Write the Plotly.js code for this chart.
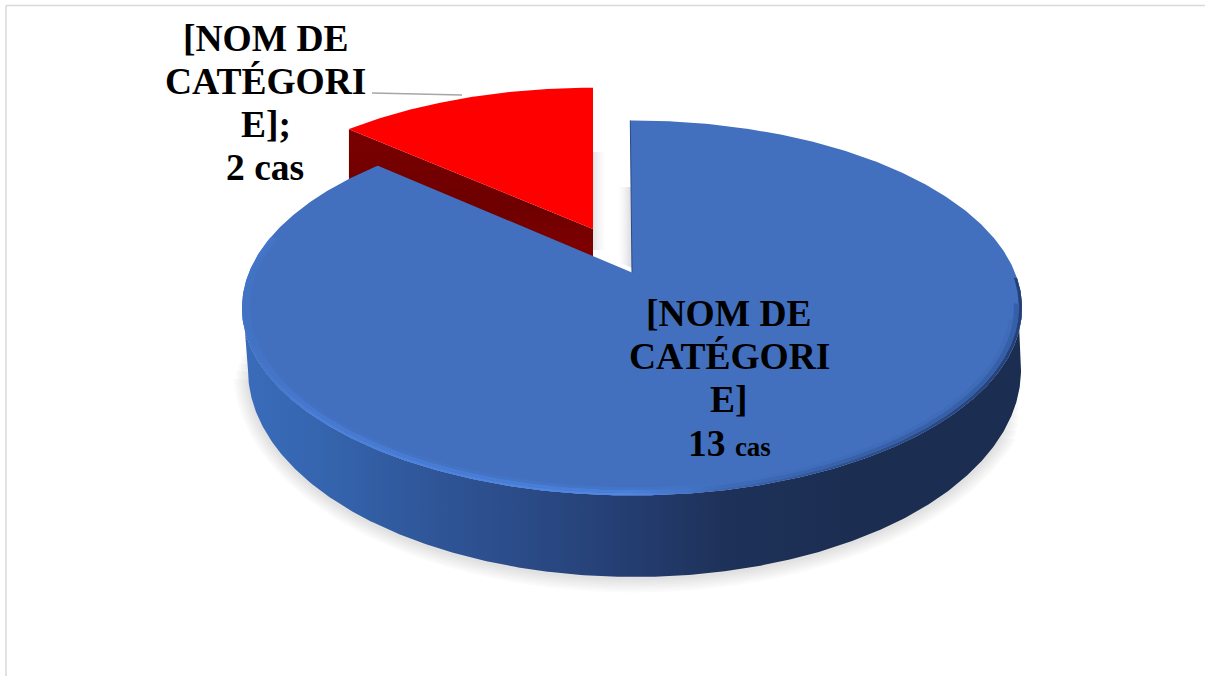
<!DOCTYPE html>
<html><head><meta charset="utf-8">
<script src="https://cdn.plot.ly/plotly-3.0.1.min.js"></script>
<style>html,body{margin:0;padding:0;background:#fff}#c{width:1205px;height:676px}</style>
</head><body><div id="c"></div>
<script>
const categories = ['[NOM DE CATÉGORIE] A', '[NOM DE CATÉGORIE] B'];
const values = [13, 2];
const unitLabel = 'cas';
const sliceColors = ['#4270BF', '#FF0000'];
const labelLinesBlue = ['[NOM DE', 'CATÉGORI', 'E]'];
const labelLinesRed = ['[NOM DE', 'CATÉGORI', 'E];'];

const total = values.reduce((a, b) => a + b, 0);
const splitDeg = 360 * values[0] / total;

// Perspective projection of a disc onto the page (page-pixel data units)
const K = 0.189;
const blueDisc = {ax: 632, ay: 272.5, R: 383, H: 180.8, rot: -0.3};
const redDisc = {ax: 593, ay: 229, R: 370, H: 168, rot: 0};
const baseEllipse = {cx: 634.5, cy: 370, a: 386.5, b: 207};
const DEG = Math.PI / 180;
function proj(d, deg, s = 1) {
  const u = Math.sin((deg + d.rot) * DEG) * s, v = Math.cos((deg + d.rot) * DEG) * s;
  const w = 1 + K * v;
  return [d.ax + d.R * u / w, d.ay - d.H * v / w];
}
function arc(d, a0, a1, s = 1) {
  const pts = [], n = Math.max(2, Math.round(Math.abs(a1 - a0) * 2));
  for (let i = 0; i <= n; i++) pts.push(proj(d, a0 + (a1 - a0) * i / n, s));
  return pts;
}
function baseArc(a0, a1, grow = 0, dy = 0) {
  const pts = [], n = Math.round(Math.abs(a1 - a0) * 2);
  for (let i = 0; i <= n; i++) {
    const a = (a0 + (a1 - a0) * i / n) * DEG;
    pts.push([baseEllipse.cx + (baseEllipse.a + grow) * Math.cos(a),
              baseEllipse.cy + dy + (baseEllipse.b + grow) * Math.sin(a)]);
  }
  return pts;
}
function poly(pts, style) {
  return Object.assign({
    type: 'scatter', mode: 'lines', x: pts.map(p => p[0]), y: pts.map(p => p[1]),
    fill: 'toself', line: {width: 0}, hoverinfo: 'skip', showlegend: false
  }, style);
}
const traces = [];

// soft shadow under the disc (lower part only)
for (let i = 6; i >= 1; i--) {
  traces.push(poly(baseArc(6 + i * 2, 190 - i * 2, i * 2.4, 1), {fillcolor: 'rgba(110,110,110,0.035)'}));
}

// faint shading inside the gap between the slices
traces.push(poly([[593, 152], [606, 152], [606, 250], [593, 250]], {
  fillgradient: {type: 'horizontal', colorscale: [[0, 'rgba(215,215,220,0.7)'], [1, 'rgba(235,235,240,0)']]}
}));
traces.push(poly([[618, 187], [631, 187], [632, 268], [618, 262]], {
  fillgradient: {type: 'horizontal', colorscale: [[0, 'rgba(235,235,240,0)'], [1, 'rgba(205,205,212,0.8)']]}
}));

// red slice: cut face then top face
const RED_DEPTH = 55;
const redApex = proj(redDisc, 0, 0);
const redTip = proj(redDisc, splitDeg);
traces.push(poly([redTip, redApex, [redApex[0], redApex[1] + RED_DEPTH], [redTip[0], redTip[1] + RED_DEPTH], redTip], {
  fillgradient: {type: 'vertical', colorscale: [[0, '#8A0000'], [0.5, '#6E0000'], [1, '#7A0000']]}
}));
traces.push(poly([redApex, ...arc(redDisc, splitDeg, 360), redApex], {fillcolor: sliceColors[1], name: categories[1]}));

// blue wall
const wallTop = arc(blueDisc, 92, 262);
traces.push(poly([...wallTop, ...baseArc(180, 0), wallTop[0]], {
  fillgradient: {type: 'horizontal', colorscale: [
    [0, '#3A6CBA'], [0.1, '#3565AF'], [0.25, '#2F5597'], [0.37, '#2A4A86'],
    [0.5, '#243D70'], [0.62, '#1E3159'], [0.8, '#1B2D50'], [1, '#1B2D50']
  ]}
}));

// blue top face
const blueApex = proj(blueDisc, 0, 0);
traces.push(poly([blueApex, ...arc(blueDisc, 0, splitDeg), blueApex], {fillcolor: sliceColors[0], name: categories[0]}));

// rim bevel on the blue face
function band(a0, s0, s1, scale) {
  const a = arc(blueDisc, a0, 282, s0), b = arc(blueDisc, 282, a0, s1);
  traces.push(poly([...a, ...b, a[0]], {fillgradient: {type: 'horizontal', colorscale: scale}}));
}
band(92, 1, 0.992, [[0, '#4272C4'], [0.1, '#4A80DC'], [0.5, '#4F88E6'], [0.62, '#3A66B2'], [0.8, '#2D4F8E'], [1, '#24407A']]);
band(100, 0.992, 0.98, [[0, '#4272C2'], [0.1, '#4779D0'], [0.5, '#4A7FDA'], [0.62, '#3E6BB8'], [0.8, '#3860A8'], [1, '#3560A8']]);
band(105, 0.98, 0.97, [[0, '#4270BF'], [0.5, '#4475C8'], [0.62, '#4270BF'], [0.8, '#3F6BB8'], [1, '#3F6BB8']]);

// thin dark edge on the blue cut
const cutTop = proj(blueDisc, 0);
traces.push({type: 'scatter', mode: 'lines', x: [cutTop[0], blueApex[0]], y: [cutTop[1], blueApex[1]],
  line: {color: '#2A4A80', width: 1}, hoverinfo: 'skip', showlegend: false});

// labels
const FS = 37.5;
function txt(x, y, text) {
  return {x, y, text, xref: 'x', yref: 'y', showarrow: false, xanchor: 'center', yanchor: 'middle',
    font: {family: '"Liberation Serif", serif', size: FS, color: '#000'}};
}
const annotations = [];
const redYs = [38, 81, 124, 167], blueYs = [313, 356, 399, 443];
labelLinesRed.forEach((t, i) => annotations.push(txt(265.5, redYs[i], '<b>' + t + '</b>')));
annotations.push(txt(265, redYs[3], `<b>${values[1]} ${unitLabel}</b>`));
labelLinesBlue.forEach((t, i) => annotations.push(txt(729, blueYs[i], '<b>' + t + '</b>')));
annotations.push(txt(729, blueYs[3], `<b>${values[0]} <span style="font-size:27px">${unitLabel}</span></b>`));

const layout = {
  width: 1205, height: 676, margin: {l: 0, r: 0, t: 0, b: 0},
  paper_bgcolor: '#fff', plot_bgcolor: '#fff', showlegend: false, hovermode: false,
  xaxis: {range: [0, 1205], visible: false, fixedrange: true},
  yaxis: {range: [676, 0], visible: false, fixedrange: true},
  annotations,
  shapes: [
    {type: 'line', xref: 'x', yref: 'y', x0: 6, x1: 1205, y0: 5.5, y1: 5.5, line: {color: '#D9D9D9', width: 1.5}},
    {type: 'line', xref: 'x', yref: 'y', x0: 6, x1: 6, y0: 5.5, y1: 676, line: {color: '#D9D9D9', width: 1.5}},
    {type: 'line', xref: 'x', yref: 'y', x0: 372, x1: 462, y0: 93, y1: 95, line: {color: '#A6A6A6', width: 1.5}}
  ]
};
Plotly.newPlot('c', traces, layout, {displayModeBar: false, staticPlot: true});
</script></body></html>
